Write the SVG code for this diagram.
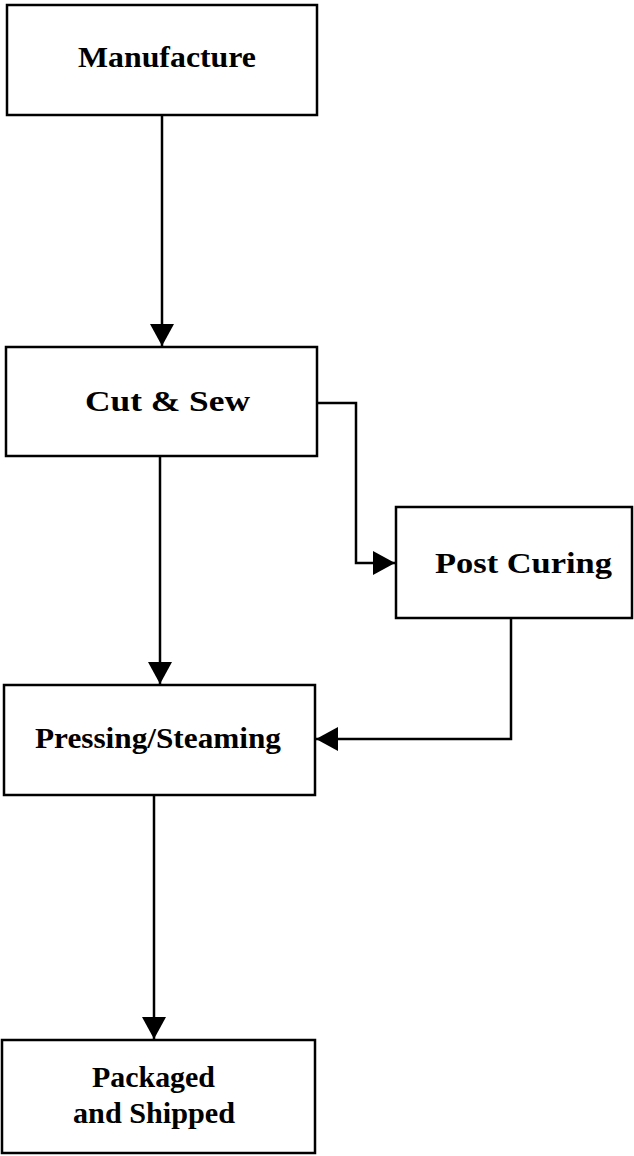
<svg xmlns="http://www.w3.org/2000/svg" width="634" height="1156" viewBox="0 0 634 1156">
  <style>
    .box { fill: #ffffff; stroke: #000000; stroke-width: 2.5; }
    .lbl { font-family: "Liberation Serif", "Times New Roman", serif; font-size: 30px; font-weight: bold; fill: #000000; }
    .wire { fill: none; stroke: #000000; stroke-width: 2.5; }
  </style>
  <defs>
    <marker id="headBig" viewBox="0 0 22 24" refX="22" refY="12" markerWidth="22" markerHeight="24" markerUnits="userSpaceOnUse" orient="auto">
      <path d="M0,0 L22,12 L0,24 Z" fill="#000000"/>
    </marker>
  </defs>
  <rect width="634" height="1156" fill="#ffffff"/>

  <g id="connectors">
    <path class="wire" d="M162,116 L162,346" marker-end="url(#headBig)"/>
    <path class="wire" d="M160,457 L160,684" marker-end="url(#headBig)"/>
    <path class="wire" d="M318,403 L356,403 L356,563 L395,563" marker-end="url(#headBig)"/>
    <path class="wire" d="M511,619 L511,739 L316,739" marker-end="url(#headBig)"/>
    <path class="wire" d="M154,796 L154,1039" marker-end="url(#headBig)"/>
  </g>

  <g id="manufacture">
    <rect class="box" x="7" y="5" width="310" height="110"/>
    <text class="lbl" x="78" y="67" textLength="178" lengthAdjust="spacingAndGlyphs">Manufacture</text>
  </g>

  <g id="cut-sew">
    <rect class="box" x="6" y="347" width="311" height="109"/>
    <text class="lbl" x="85" y="411" textLength="165" lengthAdjust="spacingAndGlyphs">Cut &amp; Sew</text>
  </g>

  <g id="post-curing">
    <rect class="box" x="396" y="507" width="236" height="111"/>
    <text class="lbl" x="435" y="573" textLength="177" lengthAdjust="spacingAndGlyphs">Post Curing</text>
  </g>

  <g id="pressing-steaming">
    <rect class="box" x="4" y="685" width="311" height="110"/>
    <text class="lbl" x="35" y="748" textLength="246" lengthAdjust="spacingAndGlyphs">Pressing/Steaming</text>
  </g>

  <g id="packaged-shipped">
    <rect class="box" x="2" y="1040" width="313" height="113"/>
    <text class="lbl" x="92" y="1087" textLength="123" lengthAdjust="spacingAndGlyphs">Packaged</text>
    <text class="lbl" x="73" y="1123" textLength="162" lengthAdjust="spacingAndGlyphs">and Shipped</text>
  </g>
</svg>
